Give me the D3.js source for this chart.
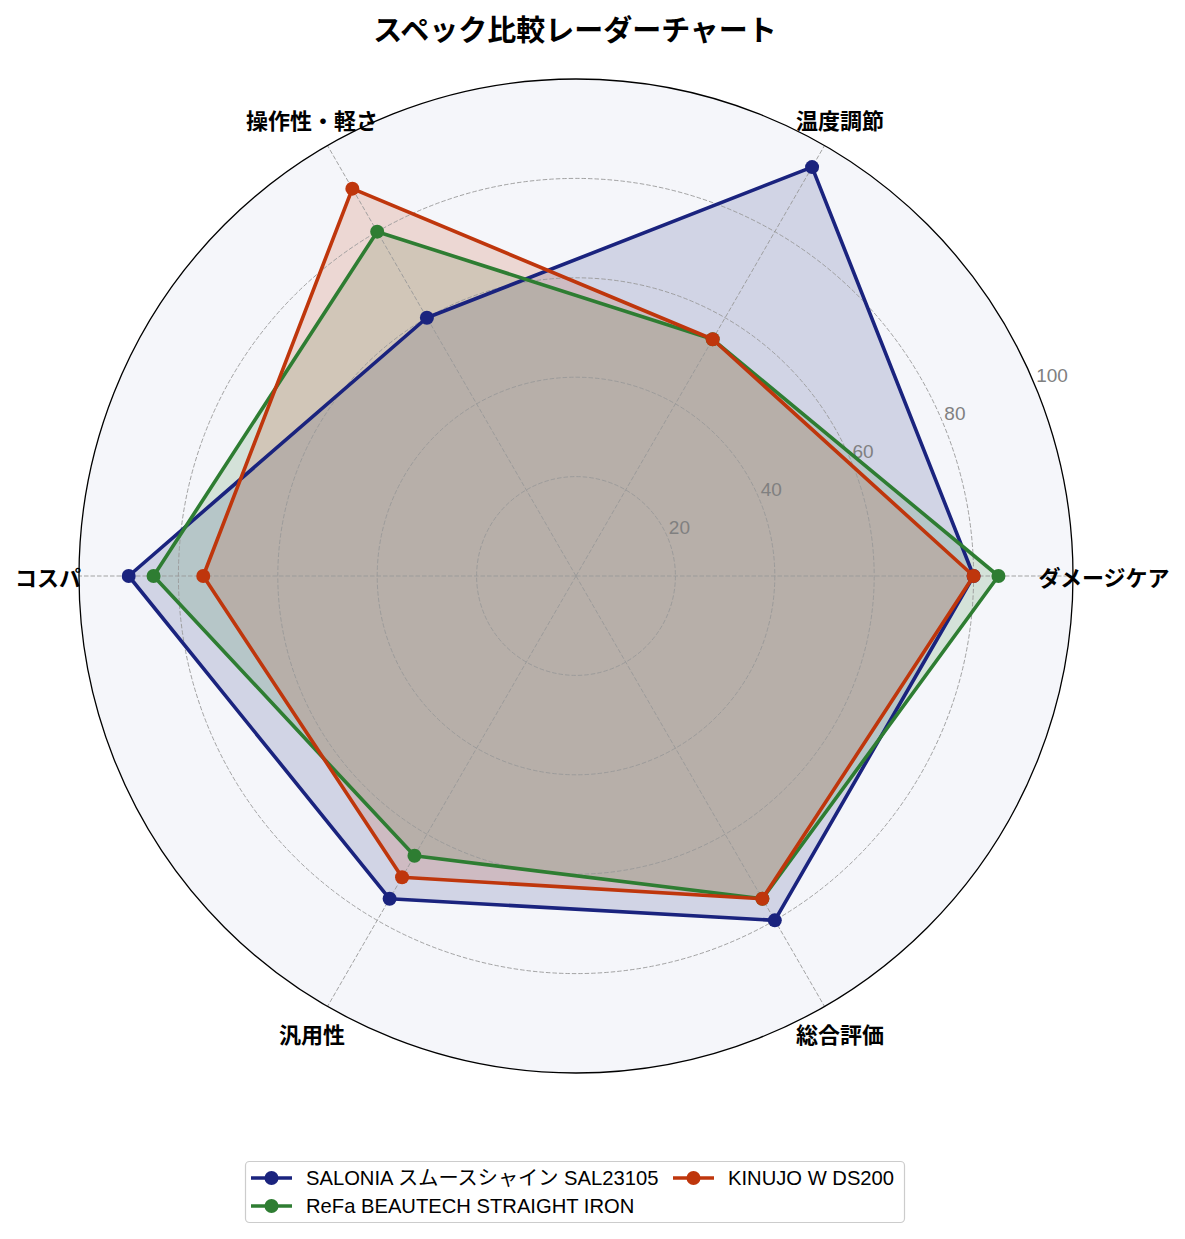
<!DOCTYPE html>
<html><head><meta charset="utf-8">
<script src="https://cdn.jsdelivr.net/npm/d3@7"></script>
<style>
html,body{margin:0;padding:0;background:#fff;}
svg{display:block;font-family:"Noto Sans CJK JP","Noto Sans",sans-serif;}
.lat{font-family:"Liberation Sans","Noto Sans CJK JP",sans-serif;}
</style></head>
<body><svg id="c" width="1185" height="1239"></svg>
<script>
const categories = ["ダメージケア","温度調節","操作性・軽さ","コスパ","汎用性","総合評価"];
const seriesNames = ["SALONIA スムースシャイン SAL23105","ReFa BEAUTECH STRAIGHT IRON","KINUJO W DS200"];
const saloniaValues = [80, 95, 60, 90, 75, 80];
const refaValues = [85, 55, 80, 85, 65, 75];
const kinujoValues = [80, 55, 90, 75, 70, 75];
const seriesColors = ["#1a237e","#2e7d32","#bf360c"];
const radialTicks = [20, 40, 60, 80, 100];
const title = "スペック比較レーダーチャート";

const series = [saloniaValues, refaValues, kinujoValues];
const svg = d3.select("#c");
const cx = 576, cy = 576, R = 497;
const r = d3.scaleLinear().domain([0,100]).range([0,R]);
const ang = d3.scaleLinear().domain([0,categories.length]).range([0, 2*Math.PI]);
const px = (i,v) => cx + r(v)*Math.cos(ang(i));
const py = (i,v) => cy - r(v)*Math.sin(ang(i));

const g = svg.append("g");
g.append("circle").attr("cx",cx).attr("cy",cy).attr("r",R).attr("fill","#f5f6fa");

// fills
series.forEach((vals,k)=>{
  const pts = vals.map((v,i)=>[px(i,v),py(i,v)]);
  g.append("path").attr("d", d3.line()(pts)+"Z")
    .attr("fill", seriesColors[k]).attr("fill-opacity",0.16).attr("stroke","none");
});

// grid
radialTicks.filter(t=>t<100).forEach(t=>{
  g.append("circle").attr("cx",cx).attr("cy",cy).attr("r",r(t))
   .attr("fill","none").attr("stroke","#999").attr("stroke-width",0.9).attr("stroke-dasharray","4.5,2");
});
categories.forEach((c,i)=>{
  g.append("line").attr("x1",cx).attr("y1",cy).attr("x2",px(i,100)).attr("y2",py(i,100))
   .attr("stroke","#999").attr("stroke-width",0.9).attr("stroke-dasharray","4.5,2");
});
g.append("circle").attr("cx",cx).attr("cy",cy).attr("r",R).attr("fill","none").attr("stroke","#000").attr("stroke-width",1.3);

// radial tick labels
const ta = 22.5*Math.PI/180;
radialTicks.forEach(t=>{
  g.append("text").attr("class","lat").attr("x", cx + r(t)*Math.cos(ta) + 1).attr("y", cy - r(t)*Math.sin(ta) - 4)
   .attr("text-anchor","start").attr("font-size",19).attr("fill","#808080").text(t);
});

// lines and markers
series.forEach((vals,k)=>{
  const pts = vals.map((v,i)=>[px(i,v),py(i,v)]);
  g.append("path").attr("d", d3.line()(pts)+"Z")
    .attr("fill","none").attr("stroke",seriesColors[k]).attr("stroke-width",3.6).attr("stroke-linejoin","round");
  g.selectAll(null).data(vals).enter().append("circle")
    .attr("cx",(v,i)=>px(i,v)).attr("cy",(v,i)=>py(i,v)).attr("r",7).attr("fill",seriesColors[k]);
});

// category labels
categories.forEach((c,i)=>{
  g.append("text").attr("x", cx + (R+31)*Math.cos(ang(i))).attr("y", cy - (R+31)*Math.sin(ang(i)))
   .attr("text-anchor","middle").attr("dominant-baseline","central")
   .attr("font-size",22).attr("font-weight","bold").attr("fill","#000").text(c);
});

// title
svg.append("text").attr("x",575).attr("y",28).attr("text-anchor","middle").attr("dominant-baseline","central")
  .attr("font-size",29).attr("font-weight","bold").text(title);

// legend
const lg = svg.append("g");
lg.append("rect").attr("x",245.5).attr("y",1161.5).attr("width",659).attr("height",61).attr("rx",4)
  .attr("fill","#fff").attr("stroke","#cccccc").attr("stroke-width",1.2);
const legPos = [[251,1178],[251,1206],[673,1178]];
seriesNames.forEach((n,k)=>{
  const [x,y] = legPos[k];
  lg.append("line").attr("x1",x).attr("x2",x+41).attr("y1",y).attr("y2",y).attr("stroke",seriesColors[k]).attr("stroke-width",3.6);
  lg.append("circle").attr("cx",x+20.5).attr("cy",y).attr("r",7).attr("fill",seriesColors[k]);
  lg.append("text").attr("class","lat").attr("x",x+55).attr("y",y+7).attr("font-size",20.2).attr("fill","#000").text(n);
});
</script></body></html>
